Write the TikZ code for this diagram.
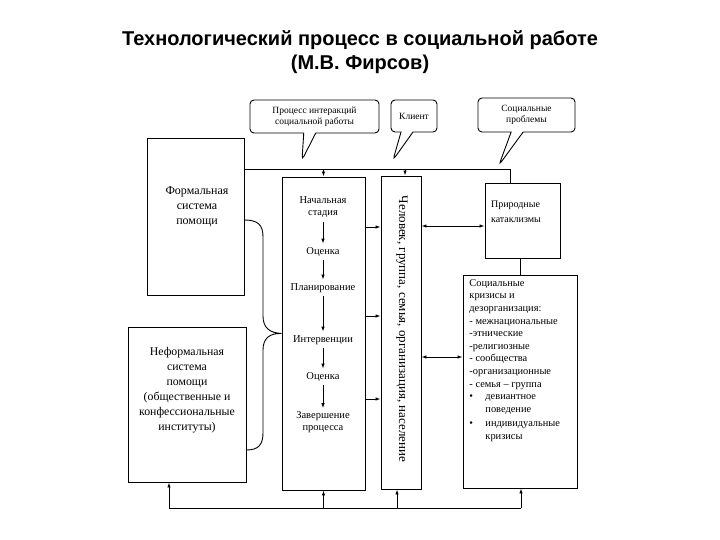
\documentclass[tikz,border=0pt]{standalone}
\usepackage{fontspec}
\setmainfont{Liberation Serif}
\newfontfamily\titlefont{Liberation Sans}
\usetikzlibrary{arrows.meta,shapes.callouts}
\tikzset{sc/.style={x=1pt,y=-1pt,line width=.9pt,font=\fontsize{10.5}{12}\selectfont},
  box/.style={draw,rectangle,inner sep=0pt},
  bubble/.style={draw,rectangle callout,rounded corners=4pt,callout pointer width=12pt,inner sep=0pt,align=center,font=\fontsize{9.5}{11}\selectfont},
  tip/.style={-{Latex[length=5pt,width=3.5pt]}},
  both/.style={{Latex[length=5pt,width=3.5pt]}-{Latex[length=5pt,width=3.5pt]}}}

\begin{document}
\begin{tikzpicture}[sc]
  \useasboundingbox (0,0) rectangle (720,540);
  \node[font=\titlefont\bfseries\fontsize{20}{24}\selectfont,align=center] (title) at (360,52){Технологический процесс в социальной работе\\(М.В. Фирсов)};
  \node[box,minimum width=97pt,minimum height=157pt] (formal) at (195.5,216.5){};
  \node[align=center,font=\fontsize{12}{15}\selectfont] (formalT) at (197,207){Формальная\\система\\помощи};
  \node[box,minimum width=118pt,minimum height=155pt] (informal) at (187,404.5){};
  \node[align=center,font=\fontsize{11.8}{15}\selectfont] (informalT) at (187,390){Неформальная\\система\\помощи\\(общественные и\\конфессиональные\\институты)};
  \node[box,minimum width=83pt,minimum height=313pt] (proc) at (323.5,333.5){};
  \node[box,minimum width=40pt,minimum height=313pt] (person) at (401,332.5){};
  \node[rotate=-90,font=\fontsize{13}{14}\selectfont] (personT) at (402,329){Человек, группа, семья, организация, население};
  \node[box,minimum width=75pt,minimum height=75pt] (nature) at (522.5,220.5){};
  \node[align=left,font=\fontsize{10}{15}\selectfont] (natureT) at (516,212){Природные\\катаклизмы};
  \node[box,minimum width=114pt,minimum height=213pt] (crises) at (520,381.5){};
  \node[anchor=north west,align=left,inner sep=0pt,font=\fontsize{10.4}{12.6}\selectfont] (crisesT) at (469,279){Социальные\\кризисы и\\дезорганизация:\\- межнациональные\\-этнические\\-религиозные\\- сообщества\\-организационные\\- семья – группа\\\makebox[16pt][l]{•}девиантное\\\hspace*{16pt}поведение\\[2pt]\makebox[16pt][l]{•}индивидуальные\\\hspace*{16pt}кризисы};
  % stages
  \node[align=center] (s1) at (323,207.5){Начальная\\стадия};
  \node (s2) at (323,252){Оценка};
  \node (s3) at (323,288){Планирование};
  \node (s4) at (323,340){Интервенции};
  \node (s5) at (323,377){Оценка};
  \node[align=center] (s6) at (323,422.5){Завершение\\процесса};
  \foreach \a/\b in {s1/s2,s2/s3,s3/s4,s4/s5,s5/s6}{\draw[tip] (\a) -- (\b);}
  % callouts
  \node[bubble,minimum width=129pt,minimum height=33pt,callout absolute pointer={(302,160)}] (int) at (314.5,116.5){Процесс интеракций\\социальной работы};
  \node[bubble,minimum width=46pt,minimum height=32pt,callout absolute pointer={(393,160)}] (client) at (414,116){Клиент};
  \node[bubble,minimum width=97pt,minimum height=34pt,callout absolute pointer={(499,165)}] (probl) at (526.5,115){Социальные\\проблемы};
  % top and bottom lines
  \coordinate (topR) at (510,169);
  \coordinate (botL) at (169,508);
  \coordinate (botR) at (521,508);
  \draw (formal.east |- topR) -- (topR) -- (topR |- nature.north);
  \draw[tip] (proc.north |- topR) -- (proc.north);
  \draw[tip] ([xshift=4pt]person.north |- topR) -- ([xshift=4pt]person.north);
  \draw (botL) -- (botR);
  \draw[tip] (botL) -- (botL |- informal.south);
  \draw[tip] (proc.south |- botL) -- (proc.south);
  \draw[tip] ([xshift=-4pt]person.south |- botL) -- ([xshift=-4pt]person.south);
  \draw[tip] (botR) -- (botR |- crises.south);
  % side links
  \foreach \y in {227,316,399}{\draw[tip] (proc.east |- 0,\y) -- (person.west |- 0,\y);}
  \coordinate (n1) at (0,226);
  \coordinate (n2) at (0,357);
  \draw[both] (person.east |- n1) -- (nature.west |- n1);
  \draw[both] (person.east |- n2) -- (crises.west |- n2);
  \draw (crises.north |- nature.south) -- (crises.north);
  % brace
  \draw (formal.east |- 0,220) .. controls (258,220) and (263,225) .. (263,237) -- (263,316) .. controls (263,328) and (270,333) .. (proc.west) .. controls (270,333) and (263,338) .. (263,350) -- (263,433) .. controls (263,445) and (258,450) .. (informal.east |- 0,450);
\end{tikzpicture}
\end{document}
